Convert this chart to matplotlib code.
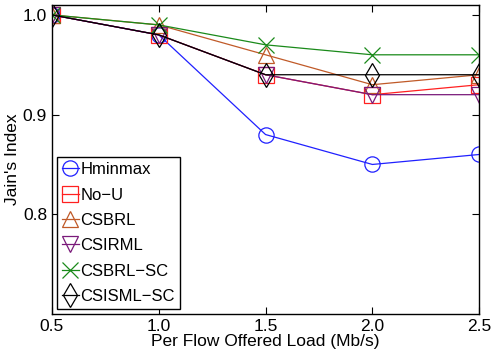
import numpy as np
import matplotlib.pyplot as plt

plt.rcParams['font.family'] = ['Liberation Sans', 'DejaVu Sans']

load = [0.5, 1.0, 1.5, 2.0, 2.5]
hminmax = [1.0, 0.98, 0.88, 0.85, 0.86]
no_u = [1.0, 0.98, 0.94, 0.92, 0.93]
csbrl = [1.0, 0.99, 0.96, 0.93, 0.94]
csirml = [1.0, 0.98, 0.94, 0.92, 0.92]
csbrl_sc = [1.0, 0.99, 0.97, 0.96, 0.96]
csisml_sc = [1.0, 0.98, 0.94, 0.94, 0.94]

series = [
    ('Hminmax', hminmax, '#2020ff', 'o'),
    ('No\u2212U', no_u, '#ff2020', 's'),
    ('CSBRL', csbrl, '#c05a28', '^'),
    ('CSIRML', csirml, '#7a1a7a', 'v'),
    ('CSBRL\u2212SC', csbrl_sc, '#1a8a1a', 'x'),
    ('CSISML\u2212SC', csisml_sc, '#000000', 'd'),
]

fig = plt.figure(figsize=(4.95, 3.54), dpi=100)
ax = fig.add_axes([0.105, 0.113, 0.863, 0.873])

for name, vals, col, mk in series:
    ms = 12 if mk == 'd' else 11
    ax.plot(load, vals, color=col, marker=mk, markersize=ms, markerfacecolor='none',
            markeredgecolor=col, linewidth=0.9, markeredgewidth=0.9, label=name)

ax.set_xlim(0.5, 2.5)
ax.set_ylim(0.7, 1.01)
ax.set_xticks([0.5, 1.0, 1.5, 2.0, 2.5])
ax.set_xticklabels(['0.5', '1.0', '1.5', '2.0', '2.5'])
ax.set_yticks([0.8, 0.9, 1.0])
ax.set_yticklabels(['0.8', '0.9', '1.0'])
ax.tick_params(direction='in', top=True, right=True, labelsize=12.5, length=5, width=0.8)
for s in ax.spines.values():
    s.set_linewidth(1.0)

ax.set_xlabel('Per Flow Offered Load (Mb/s)', fontsize=12.5, labelpad=0)
ax.set_ylabel("Jain's Index", fontsize=12.5, labelpad=2)

leg = ax.legend(loc='lower left', fontsize=12, handlelength=1.0, handletextpad=0.1,
                borderpad=0.3, labelspacing=0.62, fancybox=False, framealpha=1,
                borderaxespad=0.3)
leg.get_frame().set_edgecolor('black')
leg.get_frame().set_linewidth(1.0)

fig.savefig('out.png', dpi=100)
